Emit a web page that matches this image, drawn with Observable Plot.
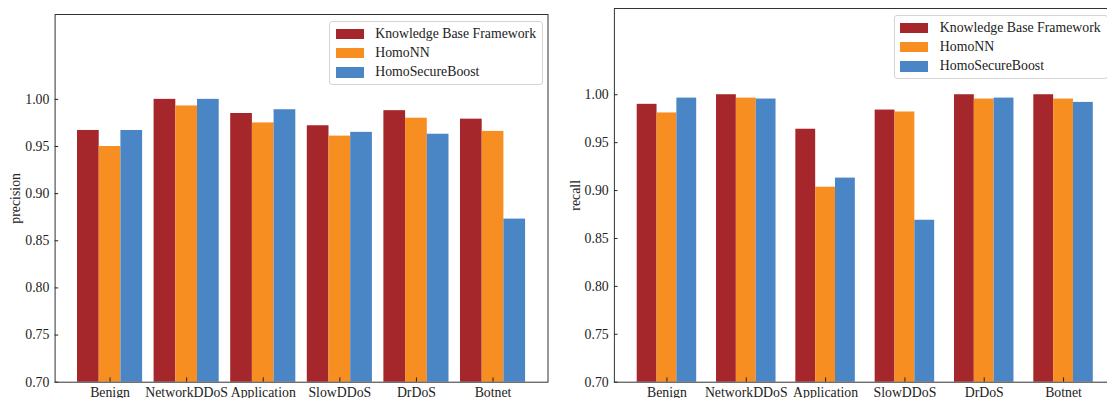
<!DOCTYPE html>
<html><head><meta charset="utf-8">
<script src="https://cdn.jsdelivr.net/npm/d3@7"></script>
<script src="https://cdn.jsdelivr.net/npm/@observablehq/plot@0.6"></script>
<style>
html,body{margin:0;padding:0;background:#fff;overflow:hidden;}
#wrap{position:relative;width:1107px;height:398px;overflow:hidden;background:#fff;}
.panel{position:absolute;top:0;}
.legend{position:absolute;box-sizing:border-box;border:1px solid #d4d4d4;border-radius:3px;background:rgba(255,255,255,0.8);padding:2px 6px 2px 5.5px;font-family:"Liberation Serif";font-size:13.8px;color:#222;white-space:nowrap;}
.legend .row{display:flex;align-items:center;height:19.4px;}
.legend .sw{width:28px;height:10.3px;margin-right:11.4px;flex:none;}
</style></head><body><div id="wrap"></div><script>
const categories = ["Benign", "NetworkDDoS", "Application", "SlowDDoS", "DrDoS", "Botnet"];
const series = ["Knowledge Base Framework", "HomoNN", "HomoSecureBoost"];
const colors = ["#a5272b", "#f78e21", "#4a86c5"];

const precisionKBF    = [0.967, 1.000, 0.985, 0.972, 0.988, 0.979];
const precisionHomoNN = [0.950, 0.993, 0.975, 0.961, 0.980, 0.966];
const precisionHSB    = [0.967, 1.000, 0.989, 0.965, 0.963, 0.873];

const recallKBF    = [0.990, 1.000, 0.964, 0.984, 1.000, 1.000];
const recallHomoNN = [0.981, 0.9965, 0.9035, 0.982, 0.9955, 0.9955];
const recallHSB    = [0.9965, 0.9955, 0.913, 0.869, 0.9965, 0.992];

const yTicks = [0.70, 0.75, 0.80, 0.85, 0.90, 0.95, 1.00];
const yDomain = [0.70, 1.09];

const wrap = document.getElementById("wrap");

function panel({values, label, left, width, marginLeft, marginRight, marginTop, barWidth, legendLeft, legendTop}) {
  const rows = [];
  values.forEach((arr, k) => arr.forEach((v, i) => rows.push({i, k, v, series: series[k]})));
  const lo = -1.5 * barWidth, hi = categories.length - 1 + 1.5 * barWidth, pad = 0.05 * (hi - lo);
  const plot = Plot.plot({
    width, height: 398, marginLeft, marginRight, marginTop, marginBottom: 16.3,
    style: {fontFamily: "Liberation Serif", fontSize: "13.8px", color: "#222", background: "transparent", overflow: "visible"},
    x: {type: "linear", domain: [lo - pad, hi + pad]},
    y: {domain: yDomain},
    color: {domain: series, range: colors},
    marks: [
      Plot.rect(rows, {
        x1: d => d.i - 1.5 * barWidth + d.k * barWidth,
        x2: d => d.i - 1.5 * barWidth + (d.k + 1) * barWidth,
        y1: yDomain[0], y2: "v", fill: "series"
      }),
      Plot.axisX({ticks: categories.map((c, i) => i), tickFormat: i => categories[i], tickSize: 4.3, dy: -4.3, tickPadding: 5, label: null}),
      Plot.axisY({ticks: yTicks, tickFormat: d => d.toFixed(2), tickSize: 3.6, dx: 3.6, tickPadding: 5.7, label, labelAnchor: "center", labelOffset: 44.5, labelArrow: "none"}),
      Plot.frame({stroke: "#333", strokeWidth: 1})
    ]
  });
  plot.classList.add("panel");
  plot.style.left = left + "px";
  wrap.appendChild(plot);

  const lg = document.createElement("div");
  lg.className = "legend";
  lg.style.left = legendLeft + "px";
  lg.style.top = legendTop + "px";
  series.forEach((s, k) => {
    const r = document.createElement("div");
    r.className = "row";
    const sw = document.createElement("span");
    sw.className = "sw";
    sw.style.background = colors[k];
    const t = document.createElement("span");
    t.textContent = s;
    r.appendChild(sw); r.appendChild(t);
    lg.appendChild(r);
  });
  wrap.appendChild(lg);
}

panel({values: [precisionKBF, precisionHomoNN, precisionHSB], label: "precision", left: 0, width: 560,
  marginLeft: 54.6, marginRight: 12.5, marginTop: 14, barWidth: 0.85 / 3, legendLeft: 329.3, legendTop: 21});
panel({values: [recallKBF, recallHomoNN, recallHSB], label: "recall", left: 550, width: 575,
  marginLeft: 63.9, marginRight: 9.4, marginTop: 8, barWidth: 0.25, legendLeft: 893.9, legendTop: 15});
</script></body></html>
